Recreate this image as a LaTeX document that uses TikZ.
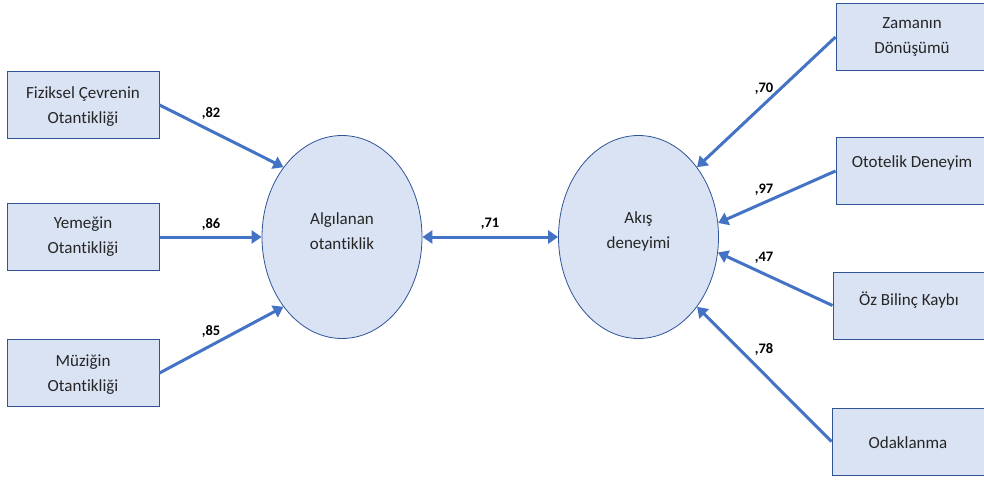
\documentclass[tikz,border=0pt]{standalone}
\usepackage{fontspec}
\setmainfont[Ligatures=NoCommon]{Carlito}
\usetikzlibrary{arrows.meta,shapes.geometric}
\definecolor{boxfill}{HTML}{DAE3F3}
\definecolor{boxline}{HTML}{2F5597}
\definecolor{arrowblue}{HTML}{4472C4}
\begin{document}
\begin{tikzpicture}[x=1pt,y=-1pt,
  obs/.style={draw=boxline,line width=1pt,fill=boxfill,minimum width=152pt,minimum height=67pt,inner sep=0pt},
  lat/.style={ellipse,draw=boxline,line width=0.8pt,fill=boxfill,minimum width=160pt,minimum height=203pt,inner sep=0pt},
  txt/.style={inner sep=0pt,font=\fontsize{17}{25}\selectfont,align=center,text=black!85},
  conn/.style={draw=arrowblue,line width=3pt,-{Triangle[length=10pt,width=13pt]}},
  lbl/.style={font=\fontsize{14.5}{16}\bfseries\selectfont,inner sep=0pt}]
\clip (0,0) rectangle (984,479);
\fill[white] (0,0) rectangle (984,479);
% indicators of perceived authenticity
\node[obs] (f1) at (83,105) {};
\node[obs] (f2) at (83,237) {};
\node[obs] (f3) at (83,373) {};
\node[txt] (tf1) at ([yshift=-2pt]f1.center) {Fiziksel Çevrenin\\Otantikliği};
\node[txt] (tf2) at (f2.center) {Yemeğin\\Otantikliği};
\node[txt] (tf3) at ([yshift=-2pt]f3.center) {Müziğin\\Otantikliği};
% latent constructs
\node[lat] (alg) at (342,237) {};
\node[lat] (aks) at (638.5,237) {};
\node[txt] (talg) at ([yshift=6pt]alg.center) {Algılanan\\otantiklik};
\node[txt] (taks) at ([yshift=6pt]aks.center) {Akış\\deneyimi};
% indicators of flow experience
\node[obs] (z1) at (912,37) {};
\node[obs] (z2) at (912,171) {};
\node[obs] (z3) at (909,305.5) {};
\node[obs] (z4) at (908,441.5) {};
\node[txt] (tz1) at (z1.center) {Zamanın\\Dönüşümü};
\node[txt] (tz2) at ([yshift=8pt]z2.center) {Ototelik Deneyim};
\node[txt] (tz3) at ([yshift=5pt]z3.center) {Öz Bilinç Kaybı};
\node[txt] (tz4) at ([yshift=-1pt]z4.center) {Odaklanma};
% paths
\draw[conn] (f1.east) -- (alg.130);
\draw[conn] (f2.east) -- (alg.west);
\draw[conn] (f3.east) -- (alg.230);
\draw[draw=arrowblue,line width=3pt,{Triangle[length=10pt,width=13pt]}-{Triangle[length=10pt,width=13pt]}] (alg.east) -- (aks.west);
\draw[conn] (z1.west) -- (aks.50);
\draw[conn] (z2.west) -- (aks.10);
\draw[conn] (z3.west) -- (aks.-11);
\draw[conn] (z4.west) -- (aks.-50);
% loadings
\node[lbl] (l1) at (211,113) {,82};
\node[lbl] (l2) at (211,224) {,86};
\node[lbl] (l3) at (211,331) {,85};
\node[lbl] (l4) at (490,224) {,71};
\node[lbl] (l5) at (764,89) {,70};
\node[lbl] (l6) at (764,190) {,97};
\node[lbl] (l7) at (764,258) {,47};
\node[lbl] (l8) at (764,349) {,78};
\end{tikzpicture}
\end{document}
